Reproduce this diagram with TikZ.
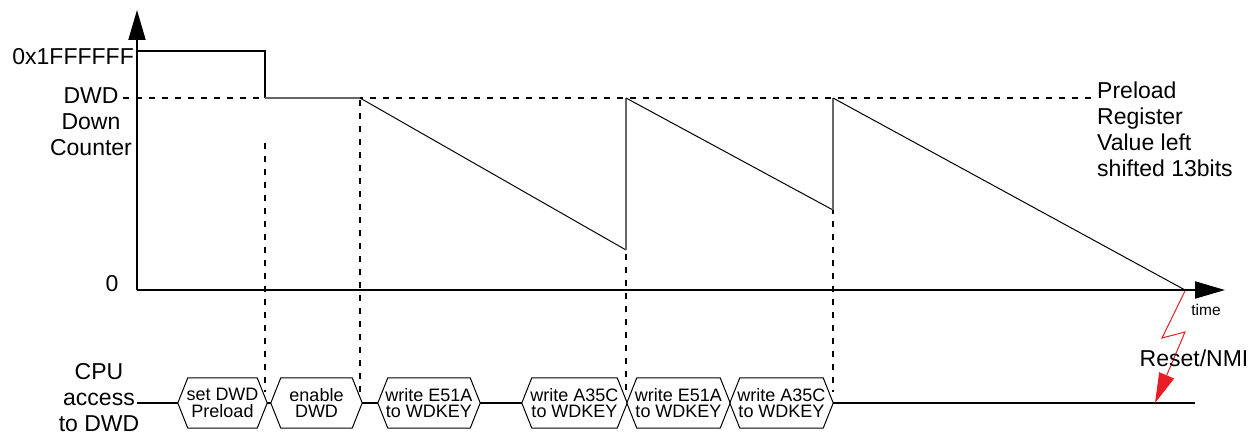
\documentclass[tikz,border=0pt]{standalone}
\usepackage{fontspec}
\setmainfont{Liberation Sans}
\usepackage{xcolor}
\usetikzlibrary{arrows.meta,positioning}

\definecolor{zapred}{RGB}{232,28,36}

\begin{document}
\begin{tikzpicture}[
  x=1pt, y=-1pt,
  lbl/.style={font=\fontsize{23}{26}\selectfont, align=center, inner sep=0pt},
  small/.style={font=\fontsize{15.5}{18}\selectfont, inner sep=0pt},
  hexbox/.style={minimum width=#1, minimum height=50pt, inner sep=0pt, align=center, font=\fontsize{18}{16.5}\selectfont},
  axis/.style={line width=2pt, -{Triangle[length=30pt, width=17pt]}},
  wave/.style={line width=1.5pt},
  ramp/.style={line width=1pt},
  jump/.style={line width=1.2pt, black!60},
  guide/.style={line width=2.2pt, dash pattern=on 6pt off 7pt},
  bus/.style={line width=2pt},
  zap/.style={zapred, line width=1pt, -{Triangle[length=30pt, width=16pt]}}
]
\useasboundingbox (0,0) rectangle (1256,435);

% axes
\coordinate (origin) at (137,290);
\coordinate (ytop) at (137,10);
\coordinate (xend) at (1225,290);
\draw[axis] (origin) -- (ytop);
\draw[axis] (origin) -- (xend);

% level and time guides
\draw[guide] (123,98) -- (1095,98);
\draw[guide] (265,143) -- (265,392);
\draw[guide] (360,100) -- (360,392);
\draw[guide] (626,98) -- (626,392);
\draw[guide] (833,195) -- (833,392);

% counter value
\draw[wave] (137,51) -- (265,51) -- (265,98);
\draw[jump] (265,98) -- (360,98);
\draw[ramp] (360,98) -- (626,250);
\draw[jump] (626,250) -- (626,98);
\draw[ramp] (626,98) -- (833,210);
\draw[jump] (833,210) -- (833,98);
\draw[ramp] (833,98) -- (1185,290);

% labels
\node[lbl, anchor=east] (maxval) at (134,57) {0x1FFFFFF};
\node[lbl] (dwdlbl) at (91,122) {DWD\\Down\\Counter};
\node[lbl] (zero) at (112,284) {0};
\node[lbl] (cpulbl) at (99,397.5) {CPU\\access\\to DWD};
\node[lbl, align=left, anchor=north west] (preload) at (1097,81.5) {Preload\\Register\\Value left\\shifted 13bits};
\node[small] (time) at (1206,310) {time};

% CPU accesses
\node[hexbox=89pt] (h1) at (222.5,403) {set DWD\\Preload};
\node[hexbox=91pt] (h2) at (316.5,403) {enable\\DWD};
\node[hexbox=102pt] (h3) at (429,403) {write E51A\\to WDKEY};
\node[hexbox=105pt] (h4) at (574.5,403) {write A35C\\to WDKEY};
\node[hexbox=103pt] (h5) at (678.5,403) {write E51A\\to WDKEY};
\node[hexbox=103pt] (h6) at (781.5,403) {write A35C\\to WDKEY};
\foreach \n in {1,...,6}
  \draw[line width=1pt] (h\n.west) -- ([xshift=10pt]h\n.north west) -- ([xshift=-10pt]h\n.north east)
    -- (h\n.east) -- ([xshift=-10pt]h\n.south east) -- ([xshift=10pt]h\n.south west) -- cycle;

\coordinate (busL) at (137,403);
\coordinate (busR) at (1195,403);
\draw[bus] (busL) -- (h1.west);
\draw[bus] (h1.east) -- (h2.west);
\draw[bus] (h2.east) -- (h3.west);
\draw[bus] (h3.east) -- (h4.west);
\draw[bus] (h6.east) -- (busR);

% reset
\coordinate (hit) at (1185,291);
\coordinate (nmi) at (1155,403);
\draw[zap] (hit) -- (1162,338) -- (1185,332) -- (nmi);
\node[lbl] (reset) at (1194,358) {Reset/NMI};
\end{tikzpicture}
\end{document}
